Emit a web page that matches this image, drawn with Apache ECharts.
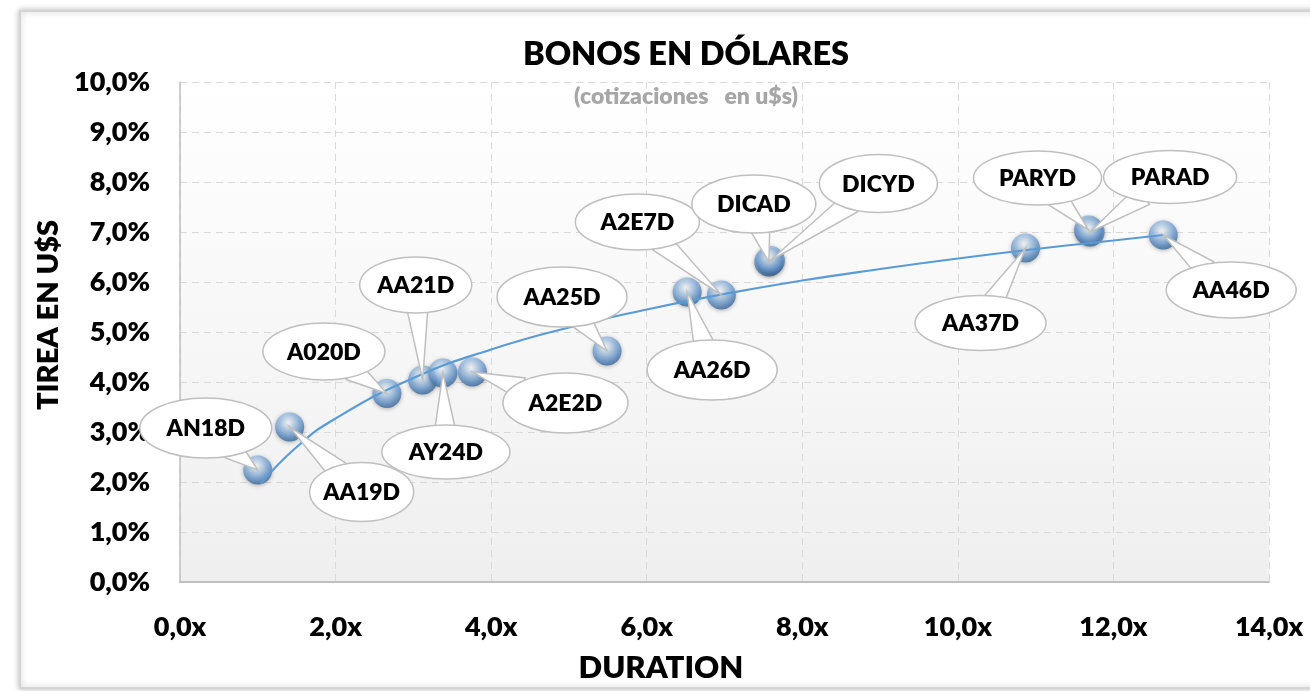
<!DOCTYPE html>
<html>
<head>
<meta charset="utf-8">
<script src="https://cdn.jsdelivr.net/npm/echarts@6/dist/echarts.min.js"></script>
<style>
  html, body { margin: 0; padding: 0; background: #fff; }
  #chart { width: 1310px; height: 691px; }
</style>
</head>
<body>
<div id="chart"></div>
<script>
// bonds: duration (x) vs TIREA % (y)
const bondNames = ['AN18D', 'AA19D', 'A020D', 'AA21D', 'AY24D', 'A2E2D', 'AA25D', 'AA26D',
                   'A2E7D', 'DICAD', 'DICYD', 'AA37D', 'PARYD', 'PARAD', 'AA46D'];
const duration  = [1.00, 1.41, 2.66, 3.12, 3.38, 3.76, 5.49, 6.52,
                   6.96, 7.57, 7.59, 10.87, 11.68, 11.70, 12.64];
const tirea     = [2.24, 3.10, 3.77, 4.04, 4.18, 4.20, 4.62, 5.80,
                   5.74, 6.40, 6.43, 6.68, 7.04, 7.00, 6.94];

// trend line
const trendDuration = [1.04, 1.5, 2, 3, 4, 5, 6, 7, 8, 9, 10, 11, 12, 12.64];
const trendTirea    = [1.97, 2.70, 3.27, 4.08, 4.65, 5.09, 5.45, 5.76, 6.03, 6.26, 6.47, 6.66, 6.83, 6.94];

// callout bubble placement (pixel offset from the point, bubble size)
const callout = {
    AN18D: { dx: -52, dy: -42, w: 132, h: 60 },
    AA19D: { dx: 72,  dy: 65,  w: 104, h: 59 },
    A020D: { dx: -63, dy: -42, w: 122, h: 57 },
    AA21D: { dx: -7,  dy: -95, w: 112, h: 56 },
    AY24D: { dx: 3,   dy: 79,  w: 128, h: 54 },
    A2E2D: { dx: 93,  dy: 31,  w: 125, h: 60 },
    AA25D: { dx: -45, dy: -54, w: 130, h: 60 },
    AA26D: { dx: 25,  dy: 78,  w: 130, h: 60 },
    A2E7D: { dx: -84, dy: -73, w: 124, h: 56 },
    DICAD: { dx: -15, dy: -58, w: 124, h: 58 },
    DICYD: { dx: 108, dy: -77, w: 118, h: 58 },
    AA37D: { dx: -45, dy: 75,  w: 131, h: 55 },
    PARYD: { dx: -51, dy: -52, w: 128, h: 54 },
    PARAD: { dx: 80,  dy: -55, w: 133, h: 53 },
    AA46D: { dx: 68,  dy: 55,  w: 130, h: 56 }
};

const FONT = 'Lato, "Open Sans", sans-serif';
const chart = echarts.init(document.getElementById('chart'));

const points = duration.map((d, i) => [d, tirea[i], i]);
const trend = trendDuration.map((d, i) => [d, trendTirea[i]]);

function fmt(v, suffix) {
    return v.toFixed(1).replace('.', ',') + suffix;
}

function renderCallout(params, api) {
    const i = api.value(2);
    const name = bondNames[i];
    const c = callout[name];
    const p = api.coord([api.value(0), api.value(1)]);
    const cx = p[0] + c.dx, cy = p[1] + c.dy;
    const a = c.w / 2, b = c.h / 2;
    let ux = p[0] - cx, uy = p[1] - cy;
    const len = Math.sqrt(ux * ux + uy * uy);
    ux /= len; uy /= len;
    const t = 1 / Math.sqrt((ux / a) * (ux / a) + (uy / b) * (uy / b));
    const bx = cx + ux * (t - 8), by = cy + uy * (t - 8);
    const hw = 11;
    const stroke = { fill: '#fff', stroke: '#bfbfbf', lineWidth: 1.5 };
    return {
        type: 'group',
        children: [
            {
                type: 'polygon',
                shape: { points: [[p[0], p[1]], [bx - uy * hw, by + ux * hw], [bx + uy * hw, by - ux * hw]] },
                style: stroke
            },
            {
                type: 'ellipse',
                shape: { cx: cx, cy: cy, rx: a, ry: b },
                style: stroke
            },
            {
                type: 'text',
                style: {
                    text: name, x: cx, y: cy + 1, align: 'center', verticalAlign: 'middle',
                    fontSize: 23, fontWeight: 800, fontFamily: FONT, fill: '#000'
                }
            }
        ]
    };
}

const option = {
    animation: false,
    backgroundColor: '#fff',
    textStyle: { fontFamily: FONT },
    graphic: [{
        type: 'rect', z: -10, silent: true,
        shape: { x: 20, y: 11, width: 1300, height: 677 },
        style: { fill: '#fff', stroke: '#d4d4d4', lineWidth: 2,
                 shadowBlur: 6, shadowColor: 'rgba(0,0,0,0.25)' }
    }],
    title: [{
        text: 'BONOS EN DÓLARES',
        left: 681, top: 33, textAlign: 'center',
        textStyle: { fontSize: 32.5, fontWeight: 800, color: '#000', fontFamily: FONT }
    }, {
        text: '(cotizaciones   en u$s)',
        left: 681, top: 80, textAlign: 'center',
        textStyle: { fontSize: 23, fontWeight: 800, color: '#a6a6a6', fontFamily: FONT }
    }],
    grid: {
        left: 180, right: 41, top: 82, bottom: 109,
        show: true, borderWidth: 0,
        backgroundColor: new echarts.graphic.LinearGradient(0, 0, 0, 1, [
            { offset: 0, color: '#ffffff' },
            { offset: 1, color: '#efefef' }
        ])
    },
    xAxis: {
        type: 'value', min: 0, max: 14, interval: 2,
        name: 'DURATION', nameLocation: 'middle', nameGap: 70,
        nameTextStyle: { fontSize: 31, fontWeight: 800, color: '#000', padding: [0, 127, 0, 0] },
        axisLine: { show: true, onZero: false, lineStyle: { color: '#bfbfbf', width: 2 } },
        axisTick: { show: false },
        axisLabel: { margin: 32, fontSize: 27, fontWeight: 800, color: '#000',
                     formatter: v => fmt(v, 'x') },
        splitLine: { show: true, lineStyle: { color: '#d9d9d9', type: [7, 5] } }
    },
    yAxis: {
        type: 'value', min: 0, max: 10, interval: 1,
        name: 'TIREA EN U$S', nameLocation: 'middle', nameGap: 102,
        nameTextStyle: { fontSize: 29, fontWeight: 800, color: '#000', padding: [0, 0, 0, 34] },
        axisLine: { show: true, lineStyle: { color: '#bfbfbf', width: 1.5 } },
        axisTick: { show: false },
        axisLabel: { margin: 30, fontSize: 27, fontWeight: 800, color: '#000',
                     formatter: v => fmt(v, '%') },
        splitLine: { show: true, lineStyle: { color: '#d9d9d9', type: [7, 5] } }
    },
    series: [{
        type: 'scatter',
        z: 2,
        data: points,
        symbolSize: 29,
        itemStyle: {
            color: new echarts.graphic.RadialGradient(0.45, 0.35, 0.7, [
                { offset: 0, color: '#ffffff' },
                { offset: 0.25, color: '#c6dcf2' },
                { offset: 0.65, color: '#6b9bd0' },
                { offset: 1, color: '#2c5a8c' }
            ]),
            shadowBlur: 4, shadowColor: 'rgba(0,0,0,0.35)', shadowOffsetY: 1
        }
    }, {
        type: 'line',
        z: 3,
        data: trend,
        smooth: true,
        symbol: 'none',
        lineStyle: { color: '#5b9bd5', width: 2.2 }
    }, {
        type: 'custom',
        z: 4,
        clip: false,
        data: points,
        renderItem: renderCallout
    }]
};

chart.setOption(option);
</script>
</body>
</html>
